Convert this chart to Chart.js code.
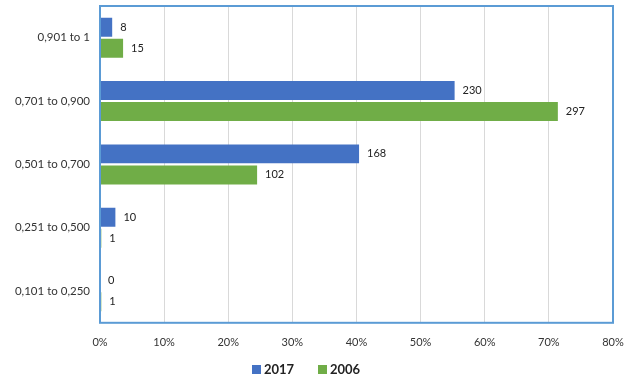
<!DOCTYPE html>
<html>
<head>
<meta charset="utf-8">
<script src="https://cdn.jsdelivr.net/npm/chart.js@4"></script>
<style>
  html, body { margin: 0; padding: 0; background: #fff; }
  #wrap { width: 642px; height: 384px; }
</style>
</head>
<body>
<div id="wrap"><canvas id="rangeChart" width="642" height="384"></canvas></div>
<script>
// categories, top to bottom
const categories = ['0,901 to 1', '0,701 to 0,900', '0,501 to 0,700', '0,251 to 0,500', '0,101 to 0,250'];
// bar lengths (share of total, %)
const pct2017 = [1.9, 55.3, 40.4, 2.4, 0];
const pct2006 = [3.6, 71.4, 24.5, 0.2, 0.2];
// counts shown as labels
const count2017 = [8, 230, 168, 10, 0];
const count2006 = [15, 297, 102, 1, 1];
const xTicks = [0, 10, 20, 30, 40, 50, 60, 70, 80];

const FONT = 'Lato, "Open Sans", sans-serif';

// counts next to the bar ends
const countLabels = {
    id: 'countLabels',
    afterDatasetsDraw(chart) {
        const ctx = chart.ctx;
        ctx.save();
        ctx.font = '11px ' + FONT;
        ctx.fillStyle = '#222';
        ctx.textBaseline = 'middle';
        ctx.textAlign = 'left';
        chart.data.datasets.forEach((ds, i) => {
            const meta = chart.getDatasetMeta(i);
            meta.data.forEach((bar, j) => {
                ctx.fillText(String(ds.counts[j]), bar.x + 8, bar.y);
            });
        });
        ctx.restore();
    }
};

// blue frame round the plot area + legend under the axis
const plotFrame = {
    id: 'plotFrame',
    afterDraw(chart) {
        const a = chart.chartArea;
        const ctx = chart.ctx;
        ctx.save();
        ctx.strokeStyle = '#5b9bd5';
        ctx.lineWidth = 2;
        ctx.strokeRect(a.left, a.top, a.right - a.left, a.bottom - a.top);

        // legend
        ctx.font = 'bold 13px ' + FONT;
        ctx.textBaseline = 'middle';
        ctx.textAlign = 'left';
        const y = 370;
        const starts = [252, 318];
        chart.data.datasets.forEach((ds, i) => {
            const x = starts[i];
            ctx.fillStyle = ds.backgroundColor;
            ctx.fillRect(x, y - 5, 9, 9);
            ctx.fillStyle = '#222';
            ctx.fillText(ds.label, x + 12, y);
        });
        ctx.restore();
    }
};

const ctx = document.getElementById('rangeChart').getContext('2d');
const rangeChart = new Chart(ctx, {
    type: 'bar',
    data: {
        labels: categories,
        datasets: [
            {
                label: '2017',
                data: pct2017,
                counts: count2017,
                backgroundColor: '#4472c4',
                categoryPercentage: 0.665,
                barPercentage: 0.9
            },
            {
                label: '2006',
                data: pct2006,
                counts: count2006,
                backgroundColor: '#70ad47',
                categoryPercentage: 0.665,
                barPercentage: 0.9
            }
        ]
    },
    options: {
        indexAxis: 'y',
        responsive: false,
        animation: false,
        layout: { padding: { top: 6, right: 29, left: 0, bottom: 22 } },
        scales: {
            x: {
                min: 0,
                max: 80,
                afterBuildTicks: axis => { axis.ticks = xTicks.map(v => ({ value: v })); },
                grid: { color: '#d9d9d9', drawTicks: false },
                border: { display: false },
                ticks: {
                    padding: 13,
                    color: '#333',
                    font: { size: 11, family: FONT },
                    callback: v => v + '%'
                }
            },
            y: {
                grid: { display: false, drawTicks: false },
                border: { display: false },
                afterFit: axis => {
                    axis.width = 100;
                    axis.paddingTop = 0;
                    axis.paddingBottom = 0;
                },
                ticks: {
                    padding: 10,
                    color: '#333',
                    font: { size: 11.5, family: FONT }
                }
            }
        },
        plugins: {
            legend: { display: false },
            tooltip: { enabled: false }
        }
    },
    plugins: [countLabels, plotFrame]
});
</script>
</body>
</html>
